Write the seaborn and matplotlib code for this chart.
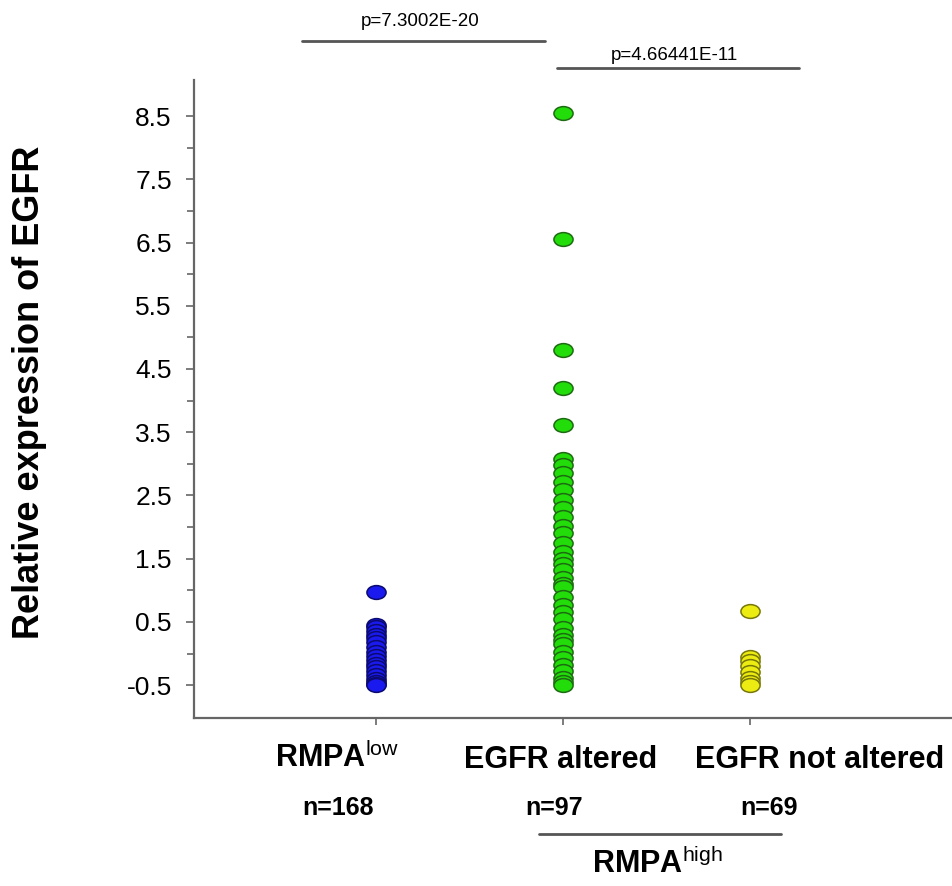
import numpy as np
import pandas as pd
import matplotlib
matplotlib.use('Agg')
import matplotlib.pyplot as plt
from matplotlib.path import Path
from matplotlib.transforms import Affine2D
from matplotlib.lines import Line2D
import seaborn as sns

# data
groups = ['RMPA low', 'EGFR altered', 'EGFR not altered']
rmpa_low = [0.98, 0.45, 0.42, 0.36, 0.3, 0.24, 0.18, 0.1, 0.02, -0.04, -0.1,
            -0.16, -0.22, -0.28, -0.34, -0.4, -0.45, -0.48, -0.5]
egfr_alt = [8.55, 6.55, 4.8, 4.2, 3.62, 3.08, 2.98, 2.85, 2.72, 2.58, 2.43,
            2.3, 2.16, 2.02, 1.9, 1.75, 1.6, 1.5, 1.42, 1.32, 1.2, 1.1, 1.05,
            0.9, 0.77, 0.66, 0.55, 0.4, 0.3, 0.22, 0.15, 0.02, -0.07, -0.18,
            -0.28, -0.38, -0.45, -0.5]
egfr_not = [0.67, -0.05, -0.12, -0.2, -0.3, -0.38, -0.45, -0.5]
n_labels = ['n=168', 'n=97', 'n=69']
p_labels = ['p=7.3002E-20', 'p=4.66441E-11']
fills = ['#1a1aee', '#22dd0a', '#ecec12']
edges = ['#0a0a70', '#1d6b12', '#77770a']

df = pd.DataFrame({
    'group': [groups[0]]*len(rmpa_low) + [groups[1]]*len(egfr_alt) + [groups[2]]*len(egfr_not),
    'value': rmpa_low + egfr_alt + egfr_not,
})

sns.set_style('ticks')
plt.rcParams['font.family'] = ['Liberation Sans', 'DejaVu Sans']
plt.rcParams['text.color'] = 'black'
plt.rcParams['ytick.labelcolor'] = 'black'
plt.rcParams['mathtext.fontset'] = 'custom'
plt.rcParams['mathtext.rm'] = 'Liberation Sans'
plt.rcParams['mathtext.it'] = 'Liberation Sans'
plt.rcParams['mathtext.bf'] = 'Liberation Sans:bold'

W, H = 953, 886
fig = plt.figure(figsize=(W/100, H/100), dpi=100)
ax = fig.add_axes([194/W, 1-718/H, (W-194)/W, (718-80)/H])

ellipse = Path.unit_circle().transformed(Affine2D().scale(1.0, 0.72))
for g, fc, ec in zip(groups, fills, edges):
    sns.stripplot(data=df[df.group == g], x='group', y='value', order=groups,
                  jitter=False, color=fc, edgecolor=ec, linewidth=1.1,
                  marker=ellipse, size=np.sqrt(190), ax=ax, zorder=3)

ax.set_xlim(-0.976, 3.09)
ax.set_ylim(-1.02, 9.07)
ax.set_yticks(np.arange(-0.5, 9.0, 1.0))
ax.set_yticks(np.arange(0, 9.0, 1.0), minor=True)
ax.set_yticklabels([f'{v:.1f}' for v in np.arange(-0.5, 9.0, 1.0)], fontsize=19)
ax.set_xticks([0, 1, 2])
ax.set_xticklabels([])
ax.set_xlabel('')
ax.set_ylabel('')
for s in ['top', 'right']:
    ax.spines[s].set_visible(False)
for s in ['left', 'bottom']:
    ax.spines[s].set_color('#666666')
    ax.spines[s].set_linewidth(1.6)
ax.tick_params(axis='y', which='major', length=6, width=1.2, color='#666666', pad=10)
ax.tick_params(axis='y', which='minor', length=5, width=1.2, color='#666666')
ax.tick_params(axis='x', length=5, width=1.2, color='#666666')

fig.text(30/W, 1-392/H, 'Relative expression of EGFR', rotation=90, fontsize=26,
         fontweight='bold', ha='center', va='center')

def ftext(x, y, s, **kw):
    fig.text(x/W, 1-y/H, s, ha='center', va='center', **kw)

def fline(x0, x1, y):
    fig.add_artist(Line2D([x0/W, x1/W], [1-y/H, 1-y/H], color='#555555', lw=2))

ftext(337, 758, r'RMPA$^{\mathrm{low}}$', fontsize=22, fontweight='bold')
ftext(561, 760, 'EGFR altered', fontsize=22, fontweight='bold')
ftext(820, 760, 'EGFR not altered', fontsize=22, fontweight='bold')
for xc, lab in zip([338, 554, 769], n_labels):
    ftext(xc, 808, lab, fontsize=18, fontweight='bold')
fline(539, 781, 834)
ftext(658, 864, r'RMPA$^{\mathrm{high}}$', fontsize=22, fontweight='bold')

ftext(420, 21, p_labels[0], fontsize=13.5)
fline(302, 545, 41)
ftext(674, 55, p_labels[1], fontsize=13.5)
fline(557, 799, 68)

fig.savefig('out.png', dpi=100)
